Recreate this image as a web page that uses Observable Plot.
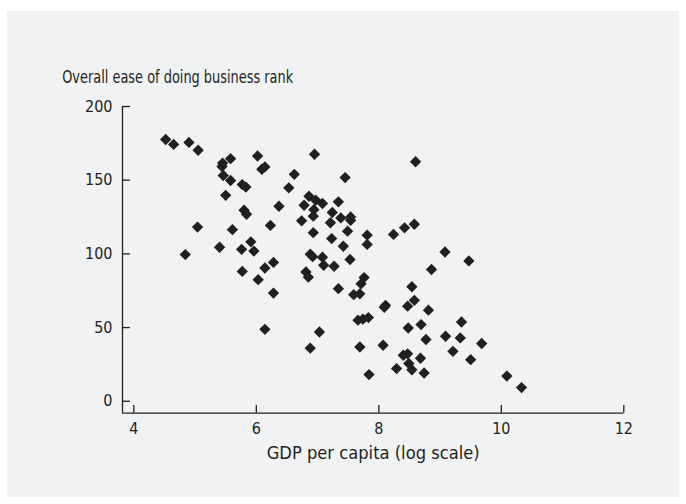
<!DOCTYPE html>
<html>
<head>
<meta charset="utf-8">
<script src="https://cdn.jsdelivr.net/npm/d3@7"></script>
<script src="https://cdn.jsdelivr.net/npm/@observablehq/plot@0.6"></script>
<style>
  html, body { margin: 0; padding: 0; background: #ffffff; }
  #chart { position: absolute; left: 7px; top: 11px; width: 672px; height: 486px; background: #f1f2f4; }
  #chart svg { display: block; font-stretch: condensed; }
</style>
</head>
<body>
<div id="chart"></div>
<script>
// GDP per capita (log scale)
const gdp = [4.52,4.65,4.90,5.05,5.58,5.45,5.44,5.46,5.58,5.77,5.83,5.50,6.02,6.09,6.14,6.62,6.53,6.37,5.80,5.84,
  5.04,5.61,6.23,4.84,5.40,5.76,5.91,5.96,5.77,6.14,6.28,6.03,6.28,6.14,6.95,8.60,7.45,6.86,6.97,7.08,
  6.78,7.34,6.94,7.24,6.93,7.38,7.54,7.54,6.74,7.21,8.42,8.58,6.93,7.49,7.23,7.81,7.81,7.42,8.24,9.08,
  9.47,6.88,6.92,7.08,7.53,7.10,7.27,6.81,6.85,7.76,7.71,8.86,7.34,8.54,7.59,7.69,8.11,8.09,8.58,8.47,
  8.81,7.66,7.74,7.83,8.48,8.69,9.35,7.03,6.88,7.69,8.07,8.77,9.09,9.33,9.68,9.21,9.50,8.40,8.47,8.49,
  8.54,8.29,8.68,8.74,7.84,10.09,10.33];
// Overall ease of doing business rank
const rank = [177.6,174.3,175.6,170.3,164.6,161.6,159.3,153.2,149.8,147.0,145.3,139.7,166.4,157.4,159.0,154.0,144.8,132.3,129.6,126.9,
  118.2,116.4,119.3,99.5,104.5,103.1,108.2,101.9,88.1,90.4,94.2,82.5,73.4,48.8,167.6,162.5,151.8,139.1,136.4,134.2,
  133.0,135.3,130.0,128.1,125.6,124.4,125.1,122.8,122.4,121.1,117.7,120.1,114.4,115.4,110.4,112.7,106.4,105.2,113.2,101.3,
  95.2,99.8,98.1,97.7,96.2,92.3,91.6,87.7,84.2,83.9,79.7,89.4,76.4,77.7,72.3,72.9,65.1,63.8,68.5,64.5,
  61.8,55.0,55.7,56.8,49.7,52.0,53.8,47.0,36.0,36.8,38.0,41.9,44.1,43.0,39.2,33.9,28.2,31.2,32.2,25.6,
  21.4,22.2,29.2,19.2,18.1,17.1,9.3];
const xTicks = [4, 6, 8, 10, 12];
const yTicks = [0, 50, 100, 150, 200];
const yTitle = "Overall ease of doing business rank";
const xTitle = "GDP per capita (log scale)";

const points = gdp.map((g, i) => ({gdp: g, rank: rank[i]}));
const xMin = 3.815, xMax = 12, yMin = -8.1, yMax = 200;
const ink = "#231f20";
const font = "'DejaVu Sans Condensed', 'DejaVu Sans', sans-serif";

const chart = Plot.plot({
  width: 672,
  height: 486,
  marginLeft: 115,
  marginRight: 55.7,
  marginTop: 95,
  marginBottom: 84.3,
  style: {background: "transparent", fontFamily: font, fontSize: "16px", color: ink},
  x: {domain: [xMin, xMax]},
  y: {domain: [yMin, yMax]},
  marks: [
    // axis lines
    Plot.ruleX([xMin], {y1: yMin, y2: yMax, stroke: ink, strokeWidth: 1.3}),
    Plot.ruleY([yMin], {x1: xMin, x2: xMax, stroke: ink, strokeWidth: 1.3}),
    // inward ticks
    Plot.ruleY(yTicks, {y: d => d, x1: xMin, x2: xMin + 0.13, stroke: ink, strokeWidth: 1.3}),
    Plot.ruleX(xTicks, {x: d => d, y1: yMin, y2: yMin + 5.2, stroke: ink, strokeWidth: 1.3}),
    // tick labels
    Plot.axisY(yTicks, {anchor: "left", tickSize: 0, tickPadding: 10, label: null, fontSize: 16, fill: ink}),
    Plot.axisX(xTicks, {anchor: "bottom", tickSize: 0, tickPadding: 9, label: null, fontSize: 16, fill: ink}),
    // titles
    Plot.text([yTitle], {frameAnchor: "top-left", dx: -60.3, dy: -29, textAnchor: "start", lineAnchor: "middle", fontSize: 17, fill: ink, className: "ytitle"}),
    Plot.text([xTitle], {frameAnchor: "bottom", dy: 40, lineAnchor: "middle", fontSize: 17, fill: ink, className: "xtitle"}),
    // points
    Plot.dot(points, {x: "gdp", y: "rank", symbol: "diamond2", r: 5.1, fill: ink, stroke: "none"})
  ]
});
document.getElementById("chart").appendChild(chart);
// compress the condensed-font titles to the reference's text widths
d3.select(chart).selectAll(".ytitle text").attr("textLength", 231).attr("lengthAdjust", "spacingAndGlyphs");
d3.select(chart).selectAll(".xtitle text").attr("textLength", 213).attr("lengthAdjust", "spacingAndGlyphs");
</script>
</body>
</html>
